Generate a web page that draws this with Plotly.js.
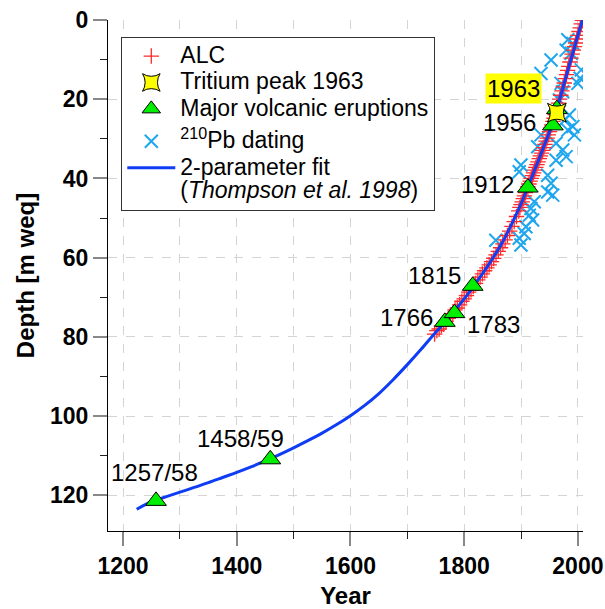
<!DOCTYPE html>
<html>
<head>
<meta charset="utf-8">
<script src="https://cdn.plot.ly/plotly-3.0.1.min.js"></script>
<style>html,body{margin:0;padding:0;background:#fff;}#chart{width:605px;height:609px;}</style>
</head>
<body>
<div id="chart"></div>
<script>
// ---- data ----
const alcYear = [1748,1752,1756,1760,1764,1768,1772,1776,1780,1784,1788,1792,1796,1800,1804,1808,1812,1816,1820,1824,1828,1832,1836,1840,1844,1848,1852,1856,1860,1864,1868,1872,1876,1880,1884,1888,1892,1896,
  1898,1900,1902,1904,1906,1908,1910,1912,1914,1916,1918,1920,1922,1924,1926,1928,1930,1932,1934,1936,1938,1940,1942,1944,1946,1948,1950,1952,1954,1956,1958,1960,1962,1964,1966,1968,1970,1972,1974,1976,1978,1980,1982,1984,1986,1988,1990,1992,1994,1996,1998,2000,2002,2004,2006,2008];
const alcDepth = [79.3,78.4,78.0,77.2,76.8,76.1,75.3,74.8,74.1,73.2,72.7,71.9,71.0,70.4,69.6,68.7,68.1,67.3,66.5,65.6,64.9,64.1,63.3,62.6,61.8,61.0,60.2,59.3,58.4,57.5,56.5,55.5,54.4,53.3,52.1,50.9,49.6,48.2,
  47.3,46.6,45.9,45.1,44.4,43.6,42.9,42.1,41.4,40.7,40.0,39.3,38.6,37.9,37.2,36.5,35.8,35.0,34.3,33.6,32.9,32.2,31.4,30.6,29.8,29.0,28.2,27.3,26.5,25.6,24.8,23.9,23.0,22.0,21.0,20.0,19.0,17.9,16.9,15.9,14.8,13.8,12.7,11.7,10.6,9.6,8.6,7.6,6.7,5.8,4.8,3.9,2.9,2.0,1.0,0.1];

const tritiumYear = [1963];
const tritiumDepth = [23.4];
const tritiumLabel = ['1963'];

const volcYear = [1258,1459,1766,1783,1815,1912,1956,1963];
const volcDepth = [121.4,110.9,76.2,74.0,67.1,42.3,26.6,22.5];
const volcLabel = ['1257/58','1458/59','1766','1783','1815','1912','1956',''];

const pbYear = [1982.3,1991.1,1979.3,1988.1,1952.8,1935.1,2006,2004,2000,1970.4,1973.4,1967.5,1985,1976.3,1991.1,1982.3,1993.9,1935.1,1929.3,1961.6,1973.4,1961.6,1979.3,1899.8,1896.8,1946.9,1952.8,1946.9,1955.7,1923.3,1917.4,1914.5,1920.4,1908.6,1905.6,1896.8,1899.8,1855.6];
const pbDepth = [5.0,5.9,7.6,8.4,10.1,13.5,12.6,14.7,16.0,16.0,18.1,20.2,24.0,25.3,26.9,27.8,29.0,29.0,32.0,31.1,32.8,35.4,34.5,36.6,38.3,39.2,41.2,43.4,44.2,45.9,47.6,49.3,50.5,52.2,53.9,55.1,56.8,55.6];

const fitYear = [1224,1250,1275,1300,1325,1350,1375,1400,1425,1450,1475,1500,1525,1550,1575,1600,1625,1650,1675,1700,1725,1750,1760,1770,1780,1790,1800,1810,1820,1830,1840,1850,1860,1870,1880,1890,1900,1910,1920,1930,1940,1950,1960,1970,1980,1990,2000,2008];
const fitDepth = [123.5,121.6,120.4,119.2,118.0,116.8,115.5,114.2,112.8,111.3,109.7,108.0,106.2,104.3,102.2,99.9,97.3,94.3,90.8,87.0,83.0,78.8,77.3,75.7,74.0,72.2,70.4,68.5,66.5,64.5,62.4,60.2,57.9,55.4,52.6,49.6,46.4,42.9,39.3,35.7,32.0,28.2,24.1,19.0,13.9,8.9,3.9,0.0];

const xTickVals = [1200,1400,1600,1800,2000];
const yTickVals = [0,20,40,60,80,100,120];

// ---- styling / layout ----
const FONT = 'Liberation Sans, Arial, sans-serif';
const labelOffsets = {
  '1257/58':[-2,28], '1458/59':[-30,21], '1766':[-38,4], '1783':[39,-11],
  '1815':[-38,10], '1912':[-40,3], '1956':[-43,3]
};
const big = s => '<span style="font-size:23px">' + s + '</span>';

const traces = [
  {x: pbYear, y: pbDepth, type:'scatter', mode:'markers', name: big('<sup>210</sup>Pb dating'), legendrank:4, legendgroup:'b',
   marker:{symbol:'x-thin', size:13, color:'#1ea6ee', line:{color:'#1ea6ee', width:2}}},
  {x: alcYear, y: alcDepth, type:'scatter', mode:'markers', name: big('ALC'), legendrank:1, legendgroup:'a',
   marker:{symbol:'cross-thin', size:11, color:'#ff2a2a', line:{color:'#ff2a2a', width:1.3}}},
  {x: fitYear, y: fitDepth, type:'scatter', mode:'lines', name: big('2-parameter fit') + '<br>' + big('(<i>Thompson et al. 1998</i>)'), legendrank:5, legendgroup:'b',
   line:{color:'#0f3cf5', width:3, shape:'spline', smoothing:1}},
  {x: volcYear, y: volcDepth, type:'scatter', mode:'markers', name: big('Major volcanic eruptions'), legendrank:3, legendgroup:'a',
   marker:{symbol:'triangle-up', size:18, color:'#00ee00', line:{color:'#000', width:1}}},
  {x: tritiumYear, y: tritiumDepth, type:'scatter', mode:'markers', name: big('Tritium peak 1963'), legendrank:2, legendgroup:'a',
   marker:{symbol:'star-square', size:17, color:'#ffff00', line:{color:'#000', width:1}}}
];

const annotations = [];
volcLabel.forEach((t,i)=>{
  if(!t) return;
  const o = labelOffsets[t];
  annotations.push({x: volcYear[i], y: volcDepth[i], xref:'x', yref:'y', text:t, showarrow:false,
    xanchor:'center', yanchor:'middle', xshift:o[0], yshift:o[1],
    font:{family:FONT, size:24, color:'#000'}});
});
tritiumLabel.forEach((t,i)=>{
  annotations.push({x: tritiumYear[i], y: tritiumDepth[i], xref:'x', yref:'y', text:t, showarrow:false,
    xanchor:'center', yanchor:'middle', xshift:-43, yshift:24, bgcolor:'#ffff00', borderpad:1,
    font:{family:FONT, size:24, color:'#000'}});
});

const gridStyle = {gridcolor:'#d4d4d4', gridwidth:1, griddash:'dash'};

const layout = {
  width:605, height:609,
  margin:{l:108, r:22, t:20, b:78, pad:0},
  paper_bgcolor:'#fff', plot_bgcolor:'#fff',
  font:{family:FONT, color:'#000'},
  showlegend:true,
  legend:{x:0.028, y:0.967, xanchor:'left', yanchor:'top', bgcolor:'#fff', bordercolor:'#333', borderwidth:1,
    font:{family:FONT, size:18, color:'#000'}, valign:'top', itemwidth:48, tracegroupgap:6, traceorder:'grouped'},
  xaxis:Object.assign({
    range:[1173.5, 2009], tickmode:'array', tickvals:xTickVals, ticktext:xTickVals.map(String),
    showline:true, linecolor:'#000', linewidth:1, zeroline:false,
    ticks:'outside', ticklen:14, tickwidth:2, tickcolor:'#888',
    tickfont:{family:FONT, size:23, weight:700, color:'#000'},
    showgrid:true,
    minor:{dtick:100, tick0:1200, ticks:'outside', ticklen:7, tickwidth:1, tickcolor:'#222', showgrid:true, gridcolor:'#d4d4d4', gridwidth:1, griddash:'dash'},
    title:{text:'Year', font:{family:FONT, size:24, weight:700, color:'#000'}, standoff:11},
    automargin:false
  }, gridStyle),
  yaxis:Object.assign({
    range:[129, 0], tickmode:'array', tickvals:yTickVals, ticktext:yTickVals.map(String),
    showline:true, linecolor:'#000', linewidth:1, zeroline:false,
    ticks:'outside', ticklen:14, tickwidth:2, tickcolor:'#888',
    tickfont:{family:FONT, size:23, weight:700, color:'#000'},
    showgrid:true,
    minor:{dtick:10, tick0:0, ticks:'outside', ticklen:7, tickwidth:1, tickcolor:'#222', showgrid:false},
    title:{text:'Depth [m weq]', font:{family:FONT, size:24, weight:700, color:'#000'}, standoff:8},
    automargin:false
  }, gridStyle),
  annotations: annotations
};

Plotly.newPlot('chart', traces, layout, {displayModeBar:false, staticPlot:true});
</script>
</body>
</html>
